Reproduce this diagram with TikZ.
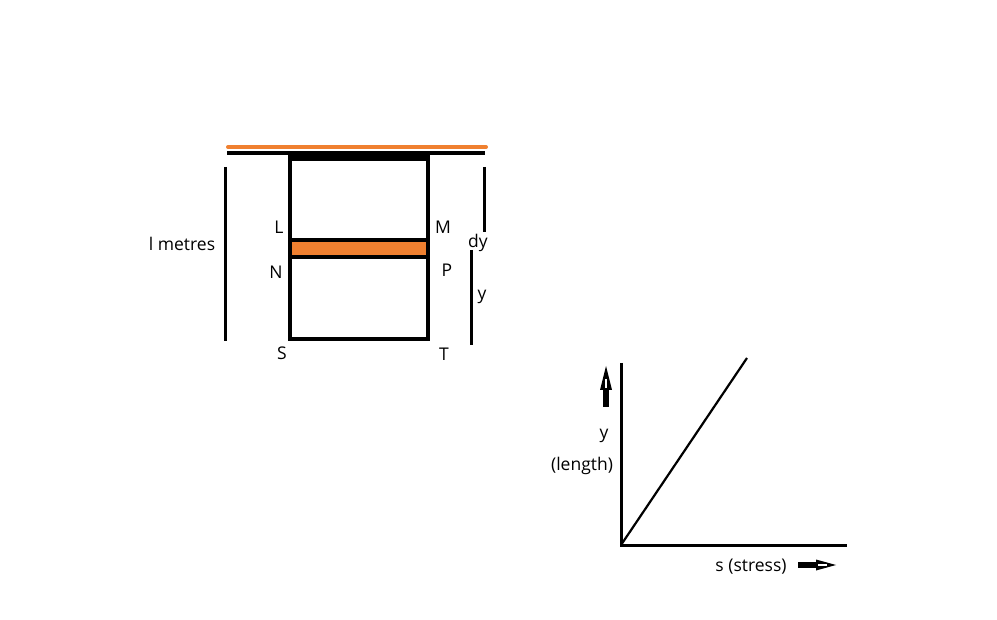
\documentclass[tikz,border=0pt]{standalone}
\usepackage{fontspec}
\setmainfont{Open Sans}
\begin{document}
\begin{tikzpicture}[x=1pt,y=-1pt,
  lbl/.style={font=\fontsize{17.5}{20}\selectfont, inner sep=0pt, anchor=center},
  bar/.style={line width=4pt},
  dim/.style={line width=3pt}]
\useasboundingbox (0,0) rectangle (997,620);
\definecolor{org}{RGB}{240,128,48}
% top beam
\draw[org, line width=4pt, line cap=round] (228,147) -- (486,147);
\draw[bar] (227,153) -- (485,153);
% column
\draw[line width=7pt] (288,157.5) -- (430,157.5);
\fill[org] (292,242) rectangle (426,255);
\draw[bar] (290,155) -- (290,339) -- (428,339) -- (428,155);
\draw[bar] (290,240) -- (428,240);
\draw[bar] (290,257) -- (428,257);
% dimension lines
\draw[dim] (225,167) coordinate (la) -- (225,341) coordinate (lb);
\draw[dim] (484,167) coordinate (ra) -- (484,232) coordinate (rb);
\draw[dim] (471,250) coordinate (ya) -- (471,345) coordinate (yb);
% labels
\node[lbl] (lm) at (182,244) {l metres};
\node[lbl] (L) at (279,227) {L};
\node[lbl] (M) at (443,227) {M};
\node[lbl] (N) at (276,272) {N};
\node[lbl] (P) at (447,270) {P};
\node[lbl] (S) at (282,353) {S};
\node[lbl] (T) at (444,354) {T};
\node[lbl] (dy) at (478,243) {dy};
\node[lbl] (yl) at (482,297) {y};
% graph
\coordinate (O) at (621,545);
\coordinate (Ytop) at (621,363);
\coordinate (Xend) at (847,545);
\coordinate (Dend) at (747,358);
\draw[line width=3pt] (Ytop) -- (O) -- (Xend);
\draw[line width=2.2pt] (O) -- (Dend);
\node[lbl] (gy) at (604,436) {y};
\node[lbl] (gl) at (582,466) {(length)};
\node[lbl] (gs) at (751,567) {s (stress)};
% up arrow
\coordinate (ua) at (606,407);
\coordinate (ub) at (606,386);
\draw[line width=6pt] (ua) -- (ub);
\fill (600,390) -- (606,366) -- (612,390) -- cycle;
\draw[white, line width=1.5pt] (606,388) -- (606,379);
% right arrow
\coordinate (ra1) at (798,565);
\coordinate (ra2) at (819,565);
\draw[line width=6pt] (ra1) -- (ra2);
\fill (816,559.5) -- (836,565) -- (816,570.5) -- cycle;
\draw[white, line width=1.5pt] (818,565) -- (827,565);
\end{tikzpicture}
\end{document}
